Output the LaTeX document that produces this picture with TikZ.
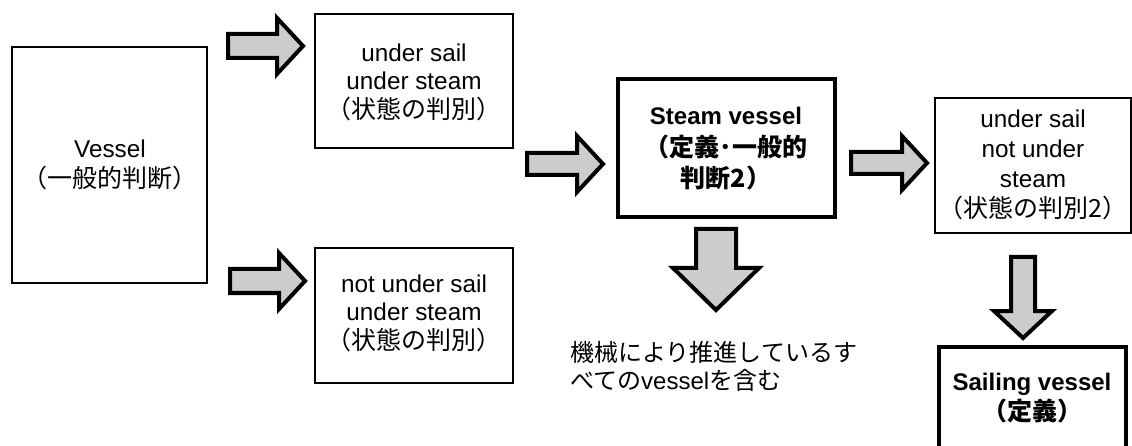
\documentclass[tikz,border=0pt]{standalone}
\usepackage{fontspec}
\setmainfont{Liberation Sans}
\newfontfamily\cjk{Noto Sans CJK JP}
\newcommand{\jp}[1]{{\cjk\fontsize{25}{29}\selectfont #1}}
\begin{document}
\begin{tikzpicture}[x=1pt,y=-1pt,
  box/.style={draw=black,line width=2.2pt,fill=white},
  thickbox/.style={draw=black,line width=4.5pt,fill=white},
  txt/.style={align=center,font=\fontsize{24.3}{28.5}\selectfont,inner sep=0pt},
  btxt/.style={align=center,font=\fontsize{24}{31.5}\selectfont\bfseries,inner sep=0pt},
  barrow/.style={draw=black,line width=4pt,fill=gray!40,line join=miter}]
\useasboundingbox (0,0) rectangle (1132,446);
\clip (0,0) rectangle (1132,446);
\newcommand{\rarrow}[6]{%
  \draw[barrow] (#1,#4-#5) -- (#2,#4-#5) -- (#2,#4-#6) -- (#3,#4) -- (#2,#4+#6) -- (#2,#4+#5) -- (#1,#4+#5) -- cycle;}
\newcommand{\darrow}[6]{%
  \draw[barrow] (#4-#5,#1) -- (#4-#5,#2) -- (#4-#6,#2) -- (#4,#3) -- (#4+#6,#2) -- (#4+#5,#2) -- (#4+#5,#1) -- cycle;}
% boxes
\draw[box] (12,47) rectangle (207,283);
\node[txt,font=\fontsize{24.3}{30}\selectfont] (vessel) at (110,165) {Vessel\\\jp{（一般的判断）}};
\draw[box] (315,14) rectangle (513,148);
\node[txt] (st1) at (414,82) {under sail\\under steam\\\jp{（状態の判別）}};
\draw[box] (315,248) rectangle (513,383);
\node[txt] (st2) at (414,313) {not under sail\\under steam\\\jp{（状態の判別）}};
\draw[thickbox] (618,79) rectangle (835,217);
\node[btxt] (steam) at (726,149) {Steam vessel\\\jp{\bfseries（定義･一般的}\\\jp{\bfseries 判断2）}};
\draw[box] (935,98) rectangle (1131,233);
\node[txt,font=\fontsize{24.3}{30}\selectfont] (st3) at (1033,165) {under sail\\not under\\steam\\\jp{（状態の判別2）}};
\draw[thickbox] (939,347) rectangle (1126,470);
\node[btxt,font=\fontsize{24}{30}\selectfont\bfseries] (sail) at (1032,398) {Sailing vessel\\\jp{\bfseries（定義）}};
\node[txt,align=left,anchor=west,font=\fontsize{24}{28}\selectfont] (note) at (570,366) {{\cjk\fontsize{24}{28}\selectfont 機械により推進しているす}\\{\cjk\fontsize{24}{28}\selectfont べての}vessel{\cjk\fontsize{24}{28}\selectfont を含む}};
% block arrows
\rarrow{228}{277}{303}{46}{12}{28}
\rarrow{230}{279}{305}{281}{12}{28}
\rarrow{527}{577}{603}{164}{11}{28}
\rarrow{851}{902}{927}{163}{11}{27}
\darrow{229}{268}{310}{716}{20}{43}
\darrow{257}{311}{338}{1023}{12}{29}
\end{tikzpicture}
\end{document}
